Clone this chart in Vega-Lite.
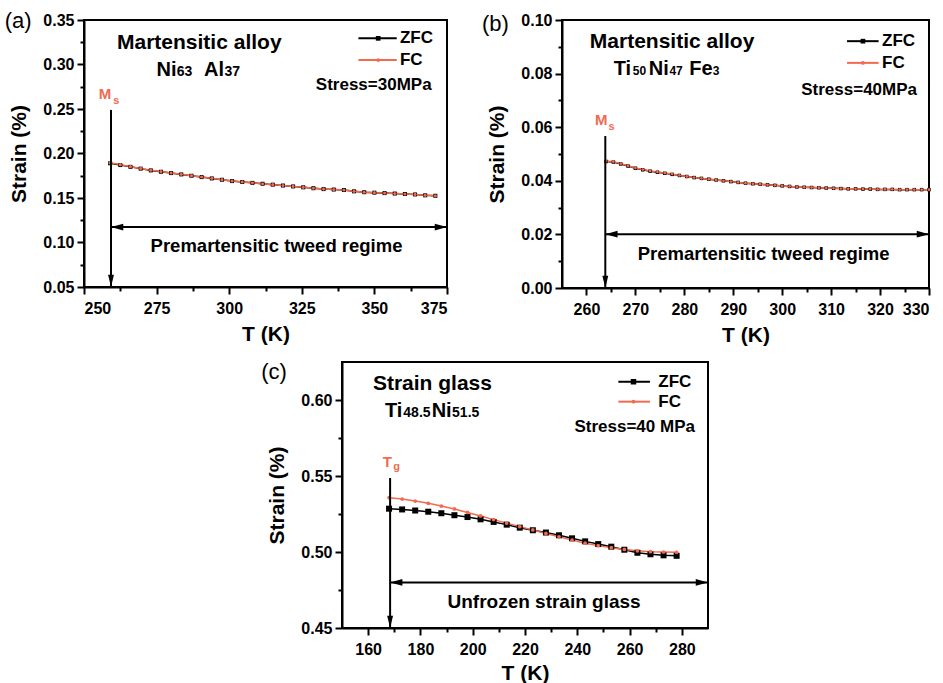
{
"$schema": "https://vega.github.io/schema/vega-lite/v6.json",
"background": "white",
"padding": {"left": 3, "top": 8, "right": 5, "bottom": 3},
"config": {
  "font": "Liberation Sans",
  "view": {"stroke": "#000000", "strokeWidth": 2},
  "axis": {"labelFont": "Liberation Sans", "labelFontSize": 16, "labelFontWeight": "bold", "labelColor": "#000000",
           "titleFont": "Liberation Sans", "titleFontSize": 21, "titleFontWeight": "bold", "titleColor": "#000000",
           "domainColor": "#000000", "domainWidth": 2, "tickColor": "#000000", "tickWidth": 2, "tickSize": 7, "grid": false}
},
"datasets": {
  "curves": [
    {"p":"a","series":"ZFC","T":259,"s":0.189},{"p":"a","series":"ZFC","T":262.5,"s":0.187},{"p":"a","series":"ZFC","T":266,"s":0.185},{"p":"a","series":"ZFC","T":269.5,"s":0.183},{"p":"a","series":"ZFC","T":273,"s":0.181},{"p":"a","series":"ZFC","T":276.5,"s":0.1795},{"p":"a","series":"ZFC","T":280,"s":0.178},{"p":"a","series":"ZFC","T":283.5,"s":0.1765},{"p":"a","series":"ZFC","T":287,"s":0.175},{"p":"a","series":"ZFC","T":290.5,"s":0.1735},{"p":"a","series":"ZFC","T":294,"s":0.172},{"p":"a","series":"ZFC","T":297.5,"s":0.1705},{"p":"a","series":"ZFC","T":301,"s":0.169},{"p":"a","series":"ZFC","T":304.5,"s":0.168},{"p":"a","series":"ZFC","T":308,"s":0.167},{"p":"a","series":"ZFC","T":311.5,"s":0.166},{"p":"a","series":"ZFC","T":315,"s":0.165},{"p":"a","series":"ZFC","T":318.5,"s":0.164},{"p":"a","series":"ZFC","T":322,"s":0.163},{"p":"a","series":"ZFC","T":325.5,"s":0.162},{"p":"a","series":"ZFC","T":329,"s":0.161},{"p":"a","series":"ZFC","T":332.5,"s":0.16},{"p":"a","series":"ZFC","T":336,"s":0.1595},{"p":"a","series":"ZFC","T":339.5,"s":0.159},{"p":"a","series":"ZFC","T":343,"s":0.1575},{"p":"a","series":"ZFC","T":346.5,"s":0.1565},{"p":"a","series":"ZFC","T":350,"s":0.156},{"p":"a","series":"ZFC","T":353.5,"s":0.1555},{"p":"a","series":"ZFC","T":357,"s":0.155},{"p":"a","series":"ZFC","T":360.5,"s":0.1545},{"p":"a","series":"ZFC","T":364,"s":0.154},{"p":"a","series":"ZFC","T":367.5,"s":0.153},{"p":"a","series":"ZFC","T":371,"s":0.1525},
    {"p":"a","series":"FC","T":259,"s":0.1895},{"p":"a","series":"FC","T":262.5,"s":0.1875},{"p":"a","series":"FC","T":266,"s":0.1852},{"p":"a","series":"FC","T":269.5,"s":0.1832},{"p":"a","series":"FC","T":273,"s":0.1812},{"p":"a","series":"FC","T":276.5,"s":0.1797},{"p":"a","series":"FC","T":280,"s":0.1781},{"p":"a","series":"FC","T":283.5,"s":0.1766},{"p":"a","series":"FC","T":287,"s":0.1751},{"p":"a","series":"FC","T":290.5,"s":0.1736},{"p":"a","series":"FC","T":294,"s":0.1721},{"p":"a","series":"FC","T":297.5,"s":0.1706},{"p":"a","series":"FC","T":301,"s":0.1691},{"p":"a","series":"FC","T":304.5,"s":0.1681},{"p":"a","series":"FC","T":308,"s":0.167},{"p":"a","series":"FC","T":311.5,"s":0.166},{"p":"a","series":"FC","T":315,"s":0.165},{"p":"a","series":"FC","T":318.5,"s":0.164},{"p":"a","series":"FC","T":322,"s":0.163},{"p":"a","series":"FC","T":325.5,"s":0.162},{"p":"a","series":"FC","T":329,"s":0.161},{"p":"a","series":"FC","T":332.5,"s":0.16},{"p":"a","series":"FC","T":336,"s":0.1595},{"p":"a","series":"FC","T":339.5,"s":0.159},{"p":"a","series":"FC","T":343,"s":0.1575},{"p":"a","series":"FC","T":346.5,"s":0.1565},{"p":"a","series":"FC","T":350,"s":0.156},{"p":"a","series":"FC","T":353.5,"s":0.1555},{"p":"a","series":"FC","T":357,"s":0.155},{"p":"a","series":"FC","T":360.5,"s":0.1545},{"p":"a","series":"FC","T":364,"s":0.154},{"p":"a","series":"FC","T":367.5,"s":0.153},{"p":"a","series":"FC","T":371,"s":0.1525},
    {"p":"b","series":"ZFC","T":264,"s":0.0472},{"p":"b","series":"ZFC","T":265.5,"s":0.047},{"p":"b","series":"ZFC","T":267,"s":0.0463},{"p":"b","series":"ZFC","T":268.5,"s":0.0455},{"p":"b","series":"ZFC","T":270,"s":0.0447},{"p":"b","series":"ZFC","T":271.5,"s":0.0441},{"p":"b","series":"ZFC","T":273,"s":0.0436},{"p":"b","series":"ZFC","T":274.5,"s":0.0432},{"p":"b","series":"ZFC","T":276,"s":0.0428},{"p":"b","series":"ZFC","T":277.5,"s":0.0424},{"p":"b","series":"ZFC","T":279,"s":0.042},{"p":"b","series":"ZFC","T":280.5,"s":0.0416},{"p":"b","series":"ZFC","T":282,"s":0.0412},{"p":"b","series":"ZFC","T":283.5,"s":0.0409},{"p":"b","series":"ZFC","T":285,"s":0.0406},{"p":"b","series":"ZFC","T":286.5,"s":0.0403},{"p":"b","series":"ZFC","T":288,"s":0.04},{"p":"b","series":"ZFC","T":289.5,"s":0.0397},{"p":"b","series":"ZFC","T":291,"s":0.0394},{"p":"b","series":"ZFC","T":292.5,"s":0.0391},{"p":"b","series":"ZFC","T":294,"s":0.0389},{"p":"b","series":"ZFC","T":295.5,"s":0.0387},{"p":"b","series":"ZFC","T":297,"s":0.0385},{"p":"b","series":"ZFC","T":298.5,"s":0.0383},{"p":"b","series":"ZFC","T":300,"s":0.0381},{"p":"b","series":"ZFC","T":301.5,"s":0.0379},{"p":"b","series":"ZFC","T":303,"s":0.0377},{"p":"b","series":"ZFC","T":304.5,"s":0.0376},{"p":"b","series":"ZFC","T":306,"s":0.0375},{"p":"b","series":"ZFC","T":307.5,"s":0.0374},{"p":"b","series":"ZFC","T":309,"s":0.0373},{"p":"b","series":"ZFC","T":310.5,"s":0.0372},{"p":"b","series":"ZFC","T":312,"s":0.0371},{"p":"b","series":"ZFC","T":313.5,"s":0.037},{"p":"b","series":"ZFC","T":315,"s":0.037},{"p":"b","series":"ZFC","T":316.5,"s":0.0369},{"p":"b","series":"ZFC","T":318,"s":0.0369},{"p":"b","series":"ZFC","T":319.5,"s":0.0368},{"p":"b","series":"ZFC","T":321,"s":0.0368},{"p":"b","series":"ZFC","T":322.5,"s":0.0368},{"p":"b","series":"ZFC","T":324,"s":0.0367},{"p":"b","series":"ZFC","T":325.5,"s":0.0367},{"p":"b","series":"ZFC","T":327,"s":0.0367},{"p":"b","series":"ZFC","T":328.5,"s":0.0367},{"p":"b","series":"ZFC","T":330,"s":0.0367},
    {"p":"b","series":"FC","T":264,"s":0.0474},{"p":"b","series":"FC","T":265.5,"s":0.0471},{"p":"b","series":"FC","T":267,"s":0.0464},{"p":"b","series":"FC","T":268.5,"s":0.0456},{"p":"b","series":"FC","T":270,"s":0.0448},{"p":"b","series":"FC","T":271.5,"s":0.0442},{"p":"b","series":"FC","T":273,"s":0.0437},{"p":"b","series":"FC","T":274.5,"s":0.0433},{"p":"b","series":"FC","T":276,"s":0.0429},{"p":"b","series":"FC","T":277.5,"s":0.0425},{"p":"b","series":"FC","T":279,"s":0.042},{"p":"b","series":"FC","T":280.5,"s":0.0416},{"p":"b","series":"FC","T":282,"s":0.0412},{"p":"b","series":"FC","T":283.5,"s":0.0409},{"p":"b","series":"FC","T":285,"s":0.0406},{"p":"b","series":"FC","T":286.5,"s":0.0403},{"p":"b","series":"FC","T":288,"s":0.04},{"p":"b","series":"FC","T":289.5,"s":0.0397},{"p":"b","series":"FC","T":291,"s":0.0394},{"p":"b","series":"FC","T":292.5,"s":0.0391},{"p":"b","series":"FC","T":294,"s":0.0389},{"p":"b","series":"FC","T":295.5,"s":0.0387},{"p":"b","series":"FC","T":297,"s":0.0385},{"p":"b","series":"FC","T":298.5,"s":0.0383},{"p":"b","series":"FC","T":300,"s":0.0381},{"p":"b","series":"FC","T":301.5,"s":0.0379},{"p":"b","series":"FC","T":303,"s":0.0377},{"p":"b","series":"FC","T":304.5,"s":0.0376},{"p":"b","series":"FC","T":306,"s":0.0375},{"p":"b","series":"FC","T":307.5,"s":0.0374},{"p":"b","series":"FC","T":309,"s":0.0373},{"p":"b","series":"FC","T":310.5,"s":0.0372},{"p":"b","series":"FC","T":312,"s":0.0371},{"p":"b","series":"FC","T":313.5,"s":0.037},{"p":"b","series":"FC","T":315,"s":0.037},{"p":"b","series":"FC","T":316.5,"s":0.0369},{"p":"b","series":"FC","T":318,"s":0.0369},{"p":"b","series":"FC","T":319.5,"s":0.0368},{"p":"b","series":"FC","T":321,"s":0.0368},{"p":"b","series":"FC","T":322.5,"s":0.0368},{"p":"b","series":"FC","T":324,"s":0.0367},{"p":"b","series":"FC","T":325.5,"s":0.0367},{"p":"b","series":"FC","T":327,"s":0.0367},{"p":"b","series":"FC","T":328.5,"s":0.0367},{"p":"b","series":"FC","T":330,"s":0.0367},
    {"p":"c","series":"ZFC","T":168,"s":0.5285},{"p":"c","series":"ZFC","T":173,"s":0.528},{"p":"c","series":"ZFC","T":178,"s":0.5273},{"p":"c","series":"ZFC","T":183,"s":0.5265},{"p":"c","series":"ZFC","T":188,"s":0.5255},{"p":"c","series":"ZFC","T":193,"s":0.5242},{"p":"c","series":"ZFC","T":198,"s":0.523},{"p":"c","series":"ZFC","T":203,"s":0.5215},{"p":"c","series":"ZFC","T":208,"s":0.5198},{"p":"c","series":"ZFC","T":213,"s":0.518},{"p":"c","series":"ZFC","T":218,"s":0.516},{"p":"c","series":"ZFC","T":223,"s":0.5143},{"p":"c","series":"ZFC","T":228,"s":0.5128},{"p":"c","series":"ZFC","T":233,"s":0.511},{"p":"c","series":"ZFC","T":238,"s":0.509},{"p":"c","series":"ZFC","T":243,"s":0.507},{"p":"c","series":"ZFC","T":248,"s":0.5052},{"p":"c","series":"ZFC","T":253,"s":0.5035},{"p":"c","series":"ZFC","T":258,"s":0.5015},{"p":"c","series":"ZFC","T":263,"s":0.4995},{"p":"c","series":"ZFC","T":268,"s":0.4985},{"p":"c","series":"ZFC","T":273,"s":0.4978},{"p":"c","series":"ZFC","T":278,"s":0.4975},
    {"p":"c","series":"FC","T":168,"s":0.5357},{"p":"c","series":"FC","T":173,"s":0.5348},{"p":"c","series":"FC","T":178,"s":0.5335},{"p":"c","series":"FC","T":183,"s":0.532},{"p":"c","series":"FC","T":188,"s":0.5302},{"p":"c","series":"FC","T":193,"s":0.5283},{"p":"c","series":"FC","T":198,"s":0.526},{"p":"c","series":"FC","T":203,"s":0.5237},{"p":"c","series":"FC","T":208,"s":0.5213},{"p":"c","series":"FC","T":213,"s":0.519},{"p":"c","series":"FC","T":218,"s":0.5167},{"p":"c","series":"FC","T":223,"s":0.5145},{"p":"c","series":"FC","T":228,"s":0.5122},{"p":"c","series":"FC","T":233,"s":0.51},{"p":"c","series":"FC","T":238,"s":0.5078},{"p":"c","series":"FC","T":243,"s":0.5058},{"p":"c","series":"FC","T":248,"s":0.5042},{"p":"c","series":"FC","T":253,"s":0.5028},{"p":"c","series":"FC","T":258,"s":0.5017},{"p":"c","series":"FC","T":263,"s":0.5008},{"p":"c","series":"FC","T":268,"s":0.5002},{"p":"c","series":"FC","T":273,"s":0.5},{"p":"c","series":"FC","T":278,"s":0.4998}
  ],
  "vline": [{"p":"a","T":259.3,"s1":0.249,"s2":0.05},{"p":"b","T":263.85,"s1":0.0567,"s2":0},{"p":"c","T":168.4,"s1":0.5487,"s2":0.45}],
  "hline": [{"p":"a","T1":259.3,"T2":375,"s":0.1173},{"p":"b","T1":263.85,"T2":330,"s":0.0201},{"p":"c","T1":168.4,"T2":290,"s":0.48}],
  "heads": [
    {"p":"a","T":259.3,"s":0.05,"dir":"down"},{"p":"a","T":259.3,"s":0.1173,"dir":"left"},{"p":"a","T":375,"s":0.1173,"dir":"right"},
    {"p":"b","T":263.85,"s":0,"dir":"down"},{"p":"b","T":263.85,"s":0.0201,"dir":"left"},{"p":"b","T":330,"s":0.0201,"dir":"right"},
    {"p":"c","T":168.4,"s":0.45,"dir":"down"},{"p":"c","T":168.4,"s":0.48,"dir":"left"},{"p":"c","T":290,"s":0.48,"dir":"right"}
  ],
  "legline": [
    {"p":"a","series":"ZFC","T1":344.5,"T2":357.7,"s":0.3294},{"p":"a","series":"FC","T1":344.5,"T2":357.7,"s":0.305},
    {"p":"b","series":"ZFC","T1":313.25,"T2":319.7,"s":0.0921},{"p":"b","series":"FC","T1":313.25,"T2":319.7,"s":0.084},
    {"p":"c","series":"ZFC","T1":255.7,"T2":267.8,"s":0.612},{"p":"c","series":"FC","T1":255.7,"T2":267.8,"s":0.5989}
  ],
  "legpt": [
    {"p":"a","series":"ZFC","T":351.3,"s":0.3294},{"p":"a","series":"FC","T":351.3,"s":0.305},
    {"p":"b","series":"ZFC","T":316.5,"s":0.0921},{"p":"b","series":"FC","T":316.5,"s":0.084},
    {"p":"c","series":"ZFC","T":261.5,"s":0.612},{"p":"c","series":"FC","T":261.5,"s":0.5989}
  ],
  "legtxt": [
    {"p":"a","T":358.8,"s":0.3294,"text":"ZFC"},{"p":"a","T":358.8,"s":0.305,"text":"FC"},
    {"p":"b","T":320.4,"s":0.0921,"text":"ZFC"},{"p":"b","T":320.4,"s":0.084,"text":"FC"},
    {"p":"c","T":271,"s":0.612,"text":"ZFC"},{"p":"c","T":271,"s":0.5989,"text":"FC"}
  ],
  "title": [
    {"p":"a","T":289.7,"s":0.3171,"text":"Martensitic alloy"},
    {"p":"b","T":277.5,"s":0.0896,"text":"Martensitic alloy"},
    {"p":"c","T":184.6,"s":0.6066,"text":"Strain glass"}
  ],
  "fbig": [
    {"p":"a","T":275.0,"s":0.2871,"text":"Ni"},{"p":"a","T":291.3,"s":0.2871,"text":"Al"},
    {"p":"b","T":265.57,"s":0.0795,"text":"Ti"},{"p":"b","T":272.72,"s":0.0795,"text":"Ni"},{"p":"b","T":281.0,"s":0.0795,"text":"Fe"},
    {"p":"c","T":166.45,"s":0.589,"text":"Ti"},{"p":"c","T":184.3,"s":0.589,"text":"Ni"}
  ],
  "fsmall": [
    {"p":"a","T":281.9,"s":0.2871,"text":"63"},{"p":"a","T":298.4,"s":0.2871,"text":"37"},
    {"p":"b","T":269.45,"s":0.0795,"text":"50"},{"p":"b","T":276.95,"s":0.0795,"text":"47"},{"p":"b","T":285.8,"s":0.0795,"text":"3"},
    {"p":"c","T":173.45,"s":0.589,"text":"48.5"},{"p":"c","T":192.1,"s":0.589,"text":"51.5"}
  ],
  "stress": [
    {"p":"a","T":369.7,"s":0.2713,"text":"Stress=30MPa"},
    {"p":"b","T":327.55,"s":0.0721,"text":"Stress=40MPa"},
    {"p":"c","T":285.0,"s":0.5791,"text":"Stress=40 MPa"}
  ],
  "regime": [
    {"p":"a","T":316.3,"s":0.0892,"text":"Premartensitic tweed regime"},
    {"p":"b","T":296.2,"s":0.0106,"text":"Premartensitic tweed regime"},
    {"p":"c","T":227.3,"s":0.463,"text":"Unfrozen strain glass"}
  ],
  "mbig": [
    {"p":"a","T":257.2,"s":0.2609,"text":"M"},{"p":"b","T":263.0,"s":0.0609,"text":"M"},{"p":"c","T":167.3,"s":0.5561,"text":"T"}
  ],
  "msmall": [
    {"p":"a","T":260.1,"s":0.2556,"text":"s"},{"p":"b","T":264.5,"s":0.0591,"text":"s"},{"p":"c","T":169.6,"s":0.554,"text":"g"}
  ],
  "plabel": [
    {"p":"a","T":227.3,"s":0.349,"text":"(a)"},{"p":"b","T":241.4,"s":0.0985,"text":"(b)"},{"p":"c","T":124.0,"s":0.6184,"text":"(c)"}
  ]
},
"spacing": 14,
"resolve": {"scale": {"x": "independent", "y": "independent"}},
"vconcat": [
 {
  "spacing": 32,
  "resolve": {"scale": {"x": "independent", "y": "independent"}},
  "hconcat": [
   {
    "width": 363, "height": 267,
    "resolve": {"axis": {"x": "independent", "y": "independent"}, "scale": {"shape": "independent", "size": "independent"}},
    "encoding": {"x": {"field": "T", "type": "quantitative", "axis": null}, "y": {"field": "s", "type": "quantitative", "axis": null}},
    "layer": [
     {"data": {"name": "curves"}, "transform": [{"filter": "datum.p=='a'"}], "mark": {"type": "line", "strokeWidth": 1.5},
      "encoding": {
        "x": {"field": "T", "type": "quantitative", "scale": {"domain": [250, 375], "nice": false, "zero": false}, "axis": {"title": "T (K)", "values": [250, 275, 300, 325, 350, 375], "format": "d", "labelPadding": 6, "titlePadding": 7, "labelFontWeight": "bold"}},
        "y": {"field": "s", "type": "quantitative", "scale": {"domain": [0.05, 0.35], "nice": false, "zero": false}, "axis": {"title": "Strain (%)", "values": [0.05, 0.1, 0.15, 0.2, 0.25, 0.3, 0.35], "format": ".2f", "labelPadding": 3, "titlePadding": 13, "labelFontWeight": "bold"}},
        "color": {"field": "series", "type": "nominal", "scale": {"domain": ["ZFC", "FC"], "range": ["#000000", "#f26a4f"]}, "legend": null}}},
     {"data": {"name": "curves"}, "transform": [{"filter": "datum.p=='a'"}], "mark": {"type": "point", "filled": true, "opacity": 1},
      "encoding": {
        "x": {"field": "T", "type": "quantitative", "axis": {"orient": "bottom", "values": [262.5, 287.5, 312.5, 337.5, 362.5], "labels": false, "domain": false, "tickSize": 4, "title": null}},
        "y": {"field": "s", "type": "quantitative", "axis": {"orient": "left", "values": [0.075, 0.125, 0.175, 0.225, 0.275, 0.325], "labels": false, "domain": false, "tickSize": 4, "title": null}},
        "color": {"field": "series", "type": "nominal", "scale": {"domain": ["ZFC", "FC"], "range": ["#000000", "#f26a4f"]}, "legend": null},
        "shape": {"field": "series", "type": "nominal", "scale": {"domain": ["ZFC", "FC"], "range": ["square", "circle"]}, "legend": null},
        "size": {"field": "series", "type": "ordinal", "scale": {"domain": ["ZFC", "FC"], "range": [16, 10]}, "legend": null}}},
     {"data": {"name": "legline"}, "transform": [{"filter": "datum.p=='a'"}], "mark": {"type": "rule", "strokeWidth": 2},
      "encoding": {"x": {"field": "T1", "type": "quantitative", "axis": null}, "x2": {"field": "T2"},
        "color": {"field": "series", "type": "nominal", "scale": {"domain": ["ZFC", "FC"], "range": ["#000000", "#f26a4f"]}, "legend": null}}},
     {"data": {"name": "legpt"}, "transform": [{"filter": "datum.p=='a'"}], "mark": {"type": "point", "filled": true, "opacity": 1},
      "encoding": {
        "color": {"field": "series", "type": "nominal", "scale": {"domain": ["ZFC", "FC"], "range": ["#000000", "#f26a4f"]}, "legend": null},
        "shape": {"field": "series", "type": "nominal", "scale": {"domain": ["ZFC", "FC"], "range": ["square", "circle"]}, "legend": null},
        "size": {"field": "series", "type": "ordinal", "scale": {"domain": ["ZFC", "FC"], "range": [22, 14]}, "legend": null}}},
     {"data": {"name": "vline"}, "transform": [{"filter": "datum.p=='a'"}], "mark": {"type": "rule", "strokeWidth": 2, "color": "#000000"},
      "encoding": {"y": {"field": "s1", "type": "quantitative", "axis": null}, "y2": {"field": "s2"}}},
     {"data": {"name": "hline"}, "transform": [{"filter": "datum.p=='a'"}], "mark": {"type": "rule", "strokeWidth": 2, "color": "#000000"},
      "encoding": {"x": {"field": "T1", "type": "quantitative", "axis": null}, "x2": {"field": "T2"}}},
     {"data": {"name": "heads"}, "transform": [{"filter": "datum.p=='a'"}], "mark": {"type": "point", "filled": true, "opacity": 1, "color": "#000000", "size": 600, "strokeWidth": 0},
      "encoding": {"shape": {"field": "dir", "type": "nominal", "scale": {"domain": ["down", "left", "right"], "range": ["M-0.24,-1L0.24,-1L0,0Z", "M1,-0.27L1,0.27L0,0Z", "M-1,-0.27L-1,0.27L0,0Z"]}, "legend": null}}},
     {"data": {"name": "legtxt"}, "transform": [{"filter": "datum.p=='a'"}], "mark": {"type": "text", "fontWeight": "bold", "fontSize": 17, "align": "left", "baseline": "middle", "color": "#000000"}, "encoding": {"text": {"field": "text"}}},
     {"data": {"name": "title"}, "transform": [{"filter": "datum.p=='a'"}], "mark": {"type": "text", "fontWeight": "bold", "fontSize": 21, "align": "center", "baseline": "alphabetic", "color": "#000000"}, "encoding": {"text": {"field": "text"}}},
     {"data": {"name": "fbig"}, "transform": [{"filter": "datum.p=='a'"}], "mark": {"type": "text", "fontWeight": "bold", "fontSize": 20, "align": "left", "baseline": "alphabetic", "color": "#000000"}, "encoding": {"text": {"field": "text"}}},
     {"data": {"name": "fsmall"}, "transform": [{"filter": "datum.p=='a'"}], "mark": {"type": "text", "fontWeight": "bold", "fontSize": 14, "align": "left", "baseline": "alphabetic", "color": "#000000"}, "encoding": {"text": {"field": "text"}}},
     {"data": {"name": "stress"}, "transform": [{"filter": "datum.p=='a'"}], "mark": {"type": "text", "fontWeight": "bold", "fontSize": 17, "align": "right", "baseline": "alphabetic", "color": "#000000"}, "encoding": {"text": {"field": "text"}}},
     {"data": {"name": "regime"}, "transform": [{"filter": "datum.p=='a'"}], "mark": {"type": "text", "fontWeight": "bold", "fontSize": 18.5, "align": "center", "baseline": "alphabetic", "color": "#000000"}, "encoding": {"text": {"field": "text"}}},
     {"data": {"name": "mbig"}, "transform": [{"filter": "datum.p=='a'"}], "mark": {"type": "text", "fontWeight": "bold", "fontSize": 15, "align": "center", "baseline": "alphabetic", "color": "#f26a4f"}, "encoding": {"text": {"field": "text"}}},
     {"data": {"name": "msmall"}, "transform": [{"filter": "datum.p=='a'"}], "mark": {"type": "text", "fontWeight": "bold", "fontSize": 11, "align": "left", "baseline": "alphabetic", "color": "#f26a4f"}, "encoding": {"text": {"field": "text"}}},
     {"data": {"name": "plabel"}, "transform": [{"filter": "datum.p=='a'"}], "mark": {"type": "text", "fontWeight": "normal", "fontSize": 22, "align": "center", "baseline": "middle", "color": "#000000"}, "encoding": {"text": {"field": "text"}}}
    ]
   },
   {
    "width": 367, "height": 268,
    "resolve": {"axis": {"x": "independent", "y": "independent"}, "scale": {"shape": "independent", "size": "independent"}},
    "encoding": {"x": {"field": "T", "type": "quantitative", "axis": null}, "y": {"field": "s", "type": "quantitative", "axis": null}},
    "layer": [
     {"data": {"name": "curves"}, "transform": [{"filter": "datum.p=='b'"}], "mark": {"type": "line", "strokeWidth": 1.5},
      "encoding": {
        "x": {"field": "T", "type": "quantitative", "scale": {"domain": [255, 330], "nice": false, "zero": false}, "axis": {"title": "T (K)", "values": [260, 270, 280, 290, 300, 310, 320, 330], "format": "d", "labelPadding": 6, "titlePadding": 7, "labelFontWeight": "bold"}},
        "y": {"field": "s", "type": "quantitative", "scale": {"domain": [0, 0.1], "nice": false, "zero": false}, "axis": {"title": "Strain (%)", "values": [0, 0.02, 0.04, 0.06, 0.08, 0.1], "format": ".2f", "labelPadding": 3, "titlePadding": 13, "labelFontWeight": "bold"}},
        "color": {"field": "series", "type": "nominal", "scale": {"domain": ["ZFC", "FC"], "range": ["#000000", "#f26a4f"]}, "legend": null}}},
     {"data": {"name": "curves"}, "transform": [{"filter": "datum.p=='b'"}], "mark": {"type": "point", "filled": true, "opacity": 1},
      "encoding": {
        "x": {"field": "T", "type": "quantitative", "axis": {"orient": "bottom", "values": [265, 275, 285, 295, 305, 315, 325], "labels": false, "domain": false, "tickSize": 4, "title": null}},
        "y": {"field": "s", "type": "quantitative", "axis": {"orient": "left", "values": [0.01, 0.03, 0.05, 0.07, 0.09], "labels": false, "domain": false, "tickSize": 4, "title": null}},
        "color": {"field": "series", "type": "nominal", "scale": {"domain": ["ZFC", "FC"], "range": ["#000000", "#f26a4f"]}, "legend": null},
        "shape": {"field": "series", "type": "nominal", "scale": {"domain": ["ZFC", "FC"], "range": ["square", "circle"]}, "legend": null},
        "size": {"field": "series", "type": "ordinal", "scale": {"domain": ["ZFC", "FC"], "range": [12, 8]}, "legend": null}}},
     {"data": {"name": "legline"}, "transform": [{"filter": "datum.p=='b'"}], "mark": {"type": "rule", "strokeWidth": 2},
      "encoding": {"x": {"field": "T1", "type": "quantitative", "axis": null}, "x2": {"field": "T2"},
        "color": {"field": "series", "type": "nominal", "scale": {"domain": ["ZFC", "FC"], "range": ["#000000", "#f26a4f"]}, "legend": null}}},
     {"data": {"name": "legpt"}, "transform": [{"filter": "datum.p=='b'"}], "mark": {"type": "point", "filled": true, "opacity": 1},
      "encoding": {
        "color": {"field": "series", "type": "nominal", "scale": {"domain": ["ZFC", "FC"], "range": ["#000000", "#f26a4f"]}, "legend": null},
        "shape": {"field": "series", "type": "nominal", "scale": {"domain": ["ZFC", "FC"], "range": ["square", "circle"]}, "legend": null},
        "size": {"field": "series", "type": "ordinal", "scale": {"domain": ["ZFC", "FC"], "range": [22, 14]}, "legend": null}}},
     {"data": {"name": "vline"}, "transform": [{"filter": "datum.p=='b'"}], "mark": {"type": "rule", "strokeWidth": 2, "color": "#000000"},
      "encoding": {"y": {"field": "s1", "type": "quantitative", "axis": null}, "y2": {"field": "s2"}}},
     {"data": {"name": "hline"}, "transform": [{"filter": "datum.p=='b'"}], "mark": {"type": "rule", "strokeWidth": 2, "color": "#000000"},
      "encoding": {"x": {"field": "T1", "type": "quantitative", "axis": null}, "x2": {"field": "T2"}}},
     {"data": {"name": "heads"}, "transform": [{"filter": "datum.p=='b'"}], "mark": {"type": "point", "filled": true, "opacity": 1, "color": "#000000", "size": 600, "strokeWidth": 0},
      "encoding": {"shape": {"field": "dir", "type": "nominal", "scale": {"domain": ["down", "left", "right"], "range": ["M-0.24,-1L0.24,-1L0,0Z", "M1,-0.27L1,0.27L0,0Z", "M-1,-0.27L-1,0.27L0,0Z"]}, "legend": null}}},
     {"data": {"name": "legtxt"}, "transform": [{"filter": "datum.p=='b'"}], "mark": {"type": "text", "fontWeight": "bold", "fontSize": 17, "align": "left", "baseline": "middle", "color": "#000000"}, "encoding": {"text": {"field": "text"}}},
     {"data": {"name": "title"}, "transform": [{"filter": "datum.p=='b'"}], "mark": {"type": "text", "fontWeight": "bold", "fontSize": 21, "align": "center", "baseline": "alphabetic", "color": "#000000"}, "encoding": {"text": {"field": "text"}}},
     {"data": {"name": "fbig"}, "transform": [{"filter": "datum.p=='b'"}], "mark": {"type": "text", "fontWeight": "bold", "fontSize": 20, "align": "left", "baseline": "alphabetic", "color": "#000000"}, "encoding": {"text": {"field": "text"}}},
     {"data": {"name": "fsmall"}, "transform": [{"filter": "datum.p=='b'"}], "mark": {"type": "text", "fontWeight": "bold", "fontSize": 12, "align": "left", "baseline": "alphabetic", "color": "#000000"}, "encoding": {"text": {"field": "text"}}},
     {"data": {"name": "stress"}, "transform": [{"filter": "datum.p=='b'"}], "mark": {"type": "text", "fontWeight": "bold", "fontSize": 17, "align": "right", "baseline": "alphabetic", "color": "#000000"}, "encoding": {"text": {"field": "text"}}},
     {"data": {"name": "regime"}, "transform": [{"filter": "datum.p=='b'"}], "mark": {"type": "text", "fontWeight": "bold", "fontSize": 18.5, "align": "center", "baseline": "alphabetic", "color": "#000000"}, "encoding": {"text": {"field": "text"}}},
     {"data": {"name": "mbig"}, "transform": [{"filter": "datum.p=='b'"}], "mark": {"type": "text", "fontWeight": "bold", "fontSize": 15, "align": "center", "baseline": "alphabetic", "color": "#f26a4f"}, "encoding": {"text": {"field": "text"}}},
     {"data": {"name": "msmall"}, "transform": [{"filter": "datum.p=='b'"}], "mark": {"type": "text", "fontWeight": "bold", "fontSize": 11, "align": "left", "baseline": "alphabetic", "color": "#f26a4f"}, "encoding": {"text": {"field": "text"}}},
     {"data": {"name": "plabel"}, "transform": [{"filter": "datum.p=='b'"}], "mark": {"type": "text", "fontWeight": "normal", "fontSize": 22, "align": "center", "baseline": "middle", "color": "#000000"}, "encoding": {"text": {"field": "text"}}}
    ]
   }
  ]
 },
 {
  "spacing": 0,
  "resolve": {"scale": {"x": "independent", "y": "independent"}},
  "hconcat": [
   {"width": 176, "height": 10, "view": {"stroke": null}, "data": {"values": []}, "mark": "point"},
   {
    "width": 366, "height": 266,
    "resolve": {"axis": {"x": "independent", "y": "independent"}, "scale": {"shape": "independent", "size": "independent"}},
    "encoding": {"x": {"field": "T", "type": "quantitative", "axis": null}, "y": {"field": "s", "type": "quantitative", "axis": null}},
    "layer": [
     {"data": {"name": "curves"}, "transform": [{"filter": "datum.p=='c'"}], "mark": {"type": "line", "strokeWidth": 1.5},
      "encoding": {
        "x": {"field": "T", "type": "quantitative", "scale": {"domain": [150, 290], "nice": false, "zero": false}, "axis": {"title": "T (K)", "values": [160, 180, 200, 220, 240, 260, 280], "format": "d", "labelPadding": 6, "titlePadding": 5, "labelFontWeight": "bold"}},
        "y": {"field": "s", "type": "quantitative", "scale": {"domain": [0.45, 0.625], "nice": false, "zero": false}, "axis": {"title": "Strain (%)", "values": [0.45, 0.5, 0.55, 0.6], "format": ".2f", "labelPadding": 3, "titlePadding": 13, "labelFontWeight": "bold"}},
        "color": {"field": "series", "type": "nominal", "scale": {"domain": ["ZFC", "FC"], "range": ["#000000", "#f26a4f"]}, "legend": null}}},
     {"data": {"name": "curves"}, "transform": [{"filter": "datum.p=='c'"}], "mark": {"type": "point", "filled": true, "opacity": 1},
      "encoding": {
        "x": {"field": "T", "type": "quantitative", "axis": {"orient": "bottom", "values": [170, 190, 210, 230, 250, 270], "labels": false, "domain": false, "tickSize": 4, "title": null}},
        "y": {"field": "s", "type": "quantitative", "axis": {"orient": "left", "values": [0.475, 0.525, 0.575], "labels": false, "domain": false, "tickSize": 4, "title": null}},
        "color": {"field": "series", "type": "nominal", "scale": {"domain": ["ZFC", "FC"], "range": ["#000000", "#f26a4f"]}, "legend": null},
        "shape": {"field": "series", "type": "nominal", "scale": {"domain": ["ZFC", "FC"], "range": ["square", "circle"]}, "legend": null},
        "size": {"field": "series", "type": "ordinal", "scale": {"domain": ["ZFC", "FC"], "range": [36, 14]}, "legend": null}}},
     {"data": {"name": "legline"}, "transform": [{"filter": "datum.p=='c'"}], "mark": {"type": "rule", "strokeWidth": 2},
      "encoding": {"x": {"field": "T1", "type": "quantitative", "axis": null}, "x2": {"field": "T2"},
        "color": {"field": "series", "type": "nominal", "scale": {"domain": ["ZFC", "FC"], "range": ["#000000", "#f26a4f"]}, "legend": null}}},
     {"data": {"name": "legpt"}, "transform": [{"filter": "datum.p=='c'"}], "mark": {"type": "point", "filled": true, "opacity": 1},
      "encoding": {
        "color": {"field": "series", "type": "nominal", "scale": {"domain": ["ZFC", "FC"], "range": ["#000000", "#f26a4f"]}, "legend": null},
        "shape": {"field": "series", "type": "nominal", "scale": {"domain": ["ZFC", "FC"], "range": ["square", "circle"]}, "legend": null},
        "size": {"field": "series", "type": "ordinal", "scale": {"domain": ["ZFC", "FC"], "range": [30, 14]}, "legend": null}}},
     {"data": {"name": "vline"}, "transform": [{"filter": "datum.p=='c'"}], "mark": {"type": "rule", "strokeWidth": 2, "color": "#000000"},
      "encoding": {"y": {"field": "s1", "type": "quantitative", "axis": null}, "y2": {"field": "s2"}}},
     {"data": {"name": "hline"}, "transform": [{"filter": "datum.p=='c'"}], "mark": {"type": "rule", "strokeWidth": 2, "color": "#000000"},
      "encoding": {"x": {"field": "T1", "type": "quantitative", "axis": null}, "x2": {"field": "T2"}}},
     {"data": {"name": "heads"}, "transform": [{"filter": "datum.p=='c'"}], "mark": {"type": "point", "filled": true, "opacity": 1, "color": "#000000", "size": 600, "strokeWidth": 0},
      "encoding": {"shape": {"field": "dir", "type": "nominal", "scale": {"domain": ["down", "left", "right"], "range": ["M-0.24,-1L0.24,-1L0,0Z", "M1,-0.27L1,0.27L0,0Z", "M-1,-0.27L-1,0.27L0,0Z"]}, "legend": null}}},
     {"data": {"name": "legtxt"}, "transform": [{"filter": "datum.p=='c'"}], "mark": {"type": "text", "fontWeight": "bold", "fontSize": 17, "align": "left", "baseline": "middle", "color": "#000000"}, "encoding": {"text": {"field": "text"}}},
     {"data": {"name": "title"}, "transform": [{"filter": "datum.p=='c'"}], "mark": {"type": "text", "fontWeight": "bold", "fontSize": 21, "align": "center", "baseline": "alphabetic", "color": "#000000"}, "encoding": {"text": {"field": "text"}}},
     {"data": {"name": "fbig"}, "transform": [{"filter": "datum.p=='c'"}], "mark": {"type": "text", "fontWeight": "bold", "fontSize": 20, "align": "left", "baseline": "alphabetic", "color": "#000000"}, "encoding": {"text": {"field": "text"}}},
     {"data": {"name": "fsmall"}, "transform": [{"filter": "datum.p=='c'"}], "mark": {"type": "text", "fontWeight": "bold", "fontSize": 14, "align": "left", "baseline": "alphabetic", "color": "#000000"}, "encoding": {"text": {"field": "text"}}},
     {"data": {"name": "stress"}, "transform": [{"filter": "datum.p=='c'"}], "mark": {"type": "text", "fontWeight": "bold", "fontSize": 17, "align": "right", "baseline": "alphabetic", "color": "#000000"}, "encoding": {"text": {"field": "text"}}},
     {"data": {"name": "regime"}, "transform": [{"filter": "datum.p=='c'"}], "mark": {"type": "text", "fontWeight": "bold", "fontSize": 19, "align": "center", "baseline": "alphabetic", "color": "#000000"}, "encoding": {"text": {"field": "text"}}},
     {"data": {"name": "mbig"}, "transform": [{"filter": "datum.p=='c'"}], "mark": {"type": "text", "fontWeight": "bold", "fontSize": 15, "align": "center", "baseline": "alphabetic", "color": "#f26a4f"}, "encoding": {"text": {"field": "text"}}},
     {"data": {"name": "msmall"}, "transform": [{"filter": "datum.p=='c'"}], "mark": {"type": "text", "fontWeight": "bold", "fontSize": 11, "align": "left", "baseline": "alphabetic", "color": "#f26a4f"}, "encoding": {"text": {"field": "text"}}},
     {"data": {"name": "plabel"}, "transform": [{"filter": "datum.p=='c'"}], "mark": {"type": "text", "fontWeight": "normal", "fontSize": 22, "align": "center", "baseline": "middle", "color": "#000000"}, "encoding": {"text": {"field": "text"}}}
    ]
   }
  ]
 }
]
}
